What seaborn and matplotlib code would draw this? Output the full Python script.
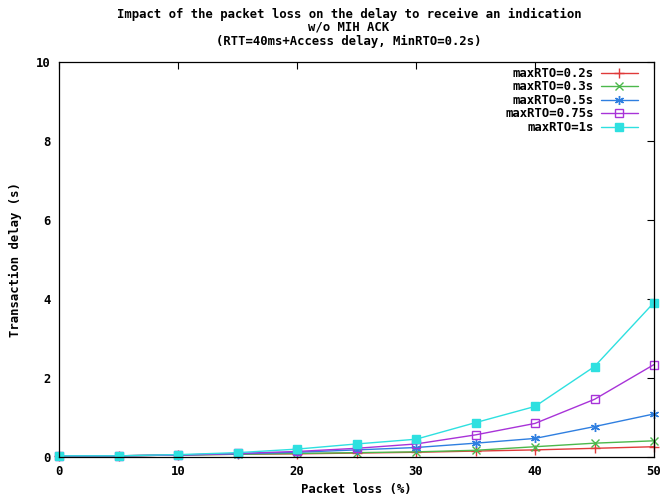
import numpy as np
import pandas as pd
import matplotlib
matplotlib.use("Agg")
import matplotlib.pyplot as plt
import seaborn as sns

# Packet loss (%) and mean transaction delay (s) for each maximum RTO
packet_loss = [0, 5, 10, 15, 20, 25, 30, 35, 40, 45, 50]
delay_rto_02 = [0.03, 0.03, 0.05, 0.07, 0.08, 0.10, 0.12, 0.15, 0.18, 0.22, 0.26]
delay_rto_03 = [0.03, 0.03, 0.05, 0.07, 0.09, 0.11, 0.13, 0.17, 0.26, 0.35, 0.41]
delay_rto_05 = [0.03, 0.03, 0.05, 0.08, 0.12, 0.18, 0.24, 0.35, 0.47, 0.77, 1.09]
delay_rto_075 = [0.03, 0.03, 0.05, 0.09, 0.14, 0.22, 0.33, 0.56, 0.85, 1.46, 2.34]
delay_rto_1 = [0.03, 0.03, 0.06, 0.11, 0.20, 0.33, 0.45, 0.87, 1.28, 2.29, 3.91]

series_labels = ["maxRTO=0.2s", "maxRTO=0.3s", "maxRTO=0.5s", "maxRTO=0.75s", "maxRTO=1s"]
series_values = [delay_rto_02, delay_rto_03, delay_rto_05, delay_rto_075, delay_rto_1]

title_lines = [
    "Impact of the packet loss on the delay to receive an indication",
    "w/o MIH ACK",
    "(RTT=40ms+Access delay, MinRTO=0.2s)",
]

sns.set_theme(style="white")
plt.rcParams["font.family"] = ["DejaVu Sans Mono", "DejaVu Sans"]
plt.rcParams["font.weight"] = "bold"
plt.rcParams["text.color"] = "black"
plt.rcParams["axes.labelcolor"] = "black"
FS = 8.8

df = pd.DataFrame({
    "loss": np.tile(packet_loss, len(series_labels)),
    "delay": np.concatenate(series_values),
    "series": np.repeat(series_labels, len(packet_loss)),
})

colors = ["#e03a3a", "#4cb84c", "#2f7fe0", "#a833d8", "#2ee0e0"]
asterisk = (6, 2, 0)
styles = [
    dict(marker="+", ms=7, filled=False),
    dict(marker="x", ms=5.5, filled=False),
    dict(marker=asterisk, ms=6.5, filled=False),
    dict(marker="s", ms=5.5, filled=False),
    dict(marker="s", ms=5.5, filled=True),
]

fig = plt.figure(figsize=(6.64, 4.97), dpi=100)
ax = fig.add_axes([59 / 664, 1 - 457 / 497, (654 - 59) / 664, (457 - 62) / 497])

for label, color, st in zip(series_labels, colors, styles):
    sub = df[df["series"] == label]
    mfc = color if st["filled"] else "none"
    sns.lineplot(data=sub, x="loss", y="delay", ax=ax, color=color, lw=1.0,
                 marker=st["marker"], markersize=st["ms"], markeredgecolor=color,
                 markerfacecolor=mfc, markeredgewidth=1.0, label=label,
                 clip_on=False)

ax.set_xlim(0, 50)
ax.set_ylim(0, 10)
ax.set_xticks(range(0, 51, 10))
ax.set_yticks(range(0, 11, 2))
ax.tick_params(direction="in", length=5, width=0.8, top=True, right=True,
               labelsize=FS, pad=6, colors="black")
for s in ax.spines.values():
    s.set_color("black")
    s.set_linewidth(0.9)
ax.set_xlabel("Packet loss (%)", fontsize=FS, fontweight="bold", labelpad=3)
ax.set_ylabel("Transaction delay (s)", fontsize=FS, fontweight="bold", labelpad=10)

leg = ax.legend(loc="upper right", bbox_to_anchor=(0.985, 1.006), frameon=False,
                markerfirst=False, fontsize=FS, handlelength=3.0,
                labelspacing=0.04, handletextpad=0.6, borderaxespad=0.2)
for t in leg.get_texts():
    t.set_ha("right")
    t.set_fontweight("bold")
leg._legend_box.align = "right"

for i, line in enumerate(title_lines):
    fig.text(349 / 664, 1 - (14 + 13.5 * i) / 497, line, ha="center", va="center",
             fontsize=FS, fontweight="bold")

fig.savefig("out.png", dpi=100)
